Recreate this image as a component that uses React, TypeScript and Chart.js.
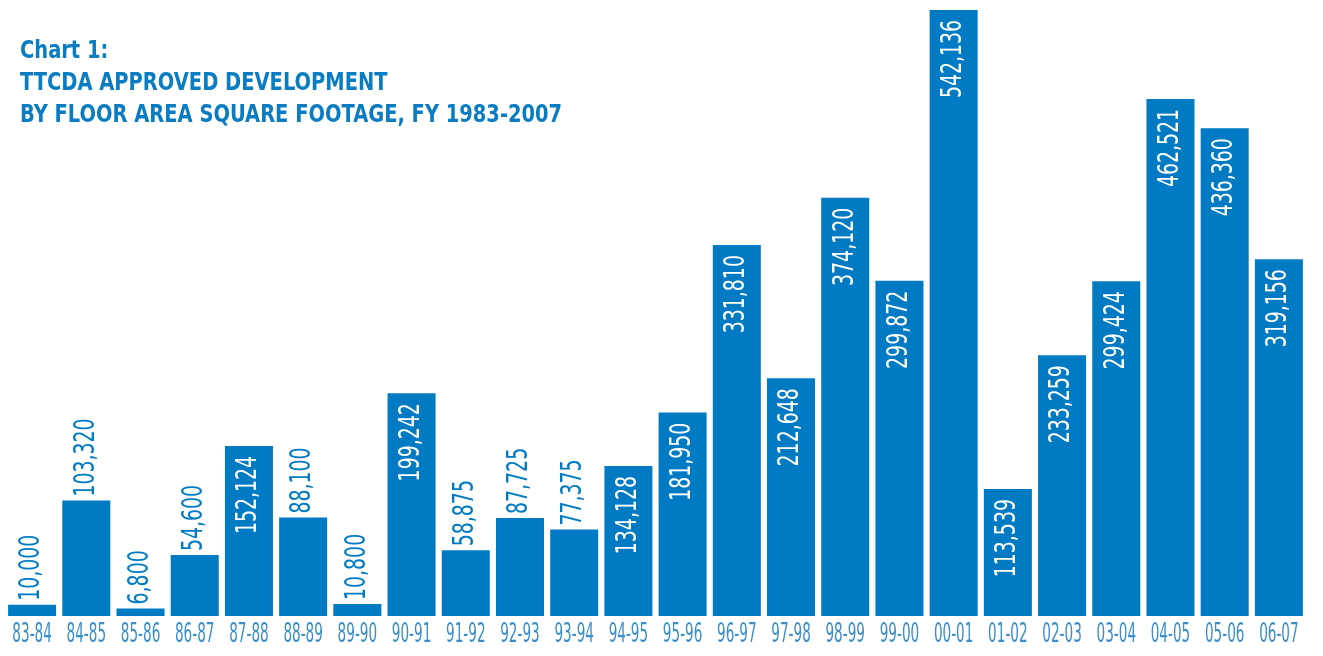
import React, { useEffect, useRef } from "react";
import { Chart, registerables } from "chart.js";

Chart.register(...registerables);

const categories = [
  "83-84", "84-85", "85-86", "86-87", "87-88", "88-89", "89-90", "90-91",
  "91-92", "92-93", "93-94", "94-95", "95-96", "96-97", "97-98", "98-99",
  "99-00", "00-01", "01-02", "02-03", "03-04", "04-05", "05-06", "06-07",
];

const squareFootage = [
  10000, 103320, 6800, 54600, 152124, 88100, 10800, 199242,
  58875, 87725, 77375, 134128, 181950, 331810, 212648, 374120,
  299872, 542136, 113539, 233259, 299424, 462521, 436360, 319156,
];

const titleLines = [
  "Chart 1:",
  "TTCDA APPROVED DEVELOPMENT",
  "BY FLOOR AREA SQUARE FOOTAGE, FY 1983-2007",
];

const BLUE = "#007bc3";
const FONT = "'Liberation Sans Narrow', 'DejaVu Sans Condensed', 'Roboto', sans-serif";

const valueLabelPlugin = {
  id: "valueLabels",
  afterDatasetsDraw(chart: any) {
    const ctx = chart.ctx;
    const meta = chart.getDatasetMeta(0);
    const data = chart.data.datasets[0].data as number[];
    const sx = 0.75;
    ctx.save();
    ctx.font = `28px ${FONT}`;
    ctx.textBaseline = "middle";
    meta.data.forEach((bar: any, i: number) => {
      const v = data[i];
      const text = v.toLocaleString("en-US");
      const inside = v > 110000;
      ctx.save();
      ctx.translate(bar.x, bar.y);
      ctx.rotate(-Math.PI / 2);
      ctx.scale(sx, 1);
      if (inside) {
        ctx.fillStyle = "#ffffff";
        ctx.textAlign = "right";
        ctx.fillText(text, -10 / sx, 0);
      } else {
        ctx.fillStyle = BLUE;
        ctx.textAlign = "left";
        ctx.fillText(text, 4 / sx, 0);
      }
      ctx.restore();
    });
    ctx.restore();
  },
};

const condensedTickPlugin = {
  id: "condensedTicks",
  afterDraw(chart: any) {
    const ctx = chart.ctx;
    const xScale = chart.scales.x;
    const labels = chart.data.labels as string[];
    const sx = 0.56;
    ctx.save();
    ctx.font = `27px ${FONT}`;
    ctx.fillStyle = "#3a8ecb";
    ctx.textAlign = "center";
    ctx.textBaseline = "middle";
    labels.forEach((l, i) => {
      const x = xScale.getPixelForTick(i);
      ctx.save();
      ctx.translate(x, chart.chartArea.bottom + 19);
      ctx.scale(sx, 1);
      ctx.fillText(l, 0, 0);
      ctx.restore();
    });
    ctx.restore();
  },
};

export default function App() {
  const canvasRef = useRef<HTMLCanvasElement | null>(null);

  useEffect(() => {
    if (!canvasRef.current) return;
    const chart = new Chart(canvasRef.current, {
      type: "bar",
      data: {
        labels: categories,
        datasets: [
          {
            data: squareFootage,
            backgroundColor: BLUE,
            borderWidth: 0,
            barPercentage: 0.886,
            categoryPercentage: 1,
          },
        ],
      },
      options: {
        animation: false,
        responsive: false,
        maintainAspectRatio: false,
        layout: { padding: { top: 10, left: 5, right: 17, bottom: 40 } },
        plugins: {
          legend: { display: false },
          title: { display: false },
          tooltip: { enabled: false },
        },
        scales: {
          x: {
            grid: { display: false, drawTicks: false },
            border: { display: false },
            ticks: { display: false },
          },
          y: {
            display: false,
            min: 0,
            max: 542136,
          },
        },
      },
      plugins: [valueLabelPlugin, condensedTickPlugin],
    });
    return () => chart.destroy();
  }, []);

  return (
    <div style={{ position: "fixed", left: 0, top: 0, width: 1323, height: 656, background: "#fff" }}>
      <canvas ref={canvasRef} width={1323} height={656} style={{ position: "absolute", left: 0, top: 0 }} />
      <div
        style={{
          position: "absolute",
          left: 20,
          top: 34,
          color: "#0a7cc2",
          fontFamily: FONT,
          fontWeight: "bold",
          fontSize: 25,
          lineHeight: "32px",
          transform: "scaleX(0.865)",
          transformOrigin: "left top",
          whiteSpace: "nowrap",
        }}
      >
        {titleLines.map((l) => (
          <div key={l}>{l}</div>
        ))}
      </div>
    </div>
  );
}
